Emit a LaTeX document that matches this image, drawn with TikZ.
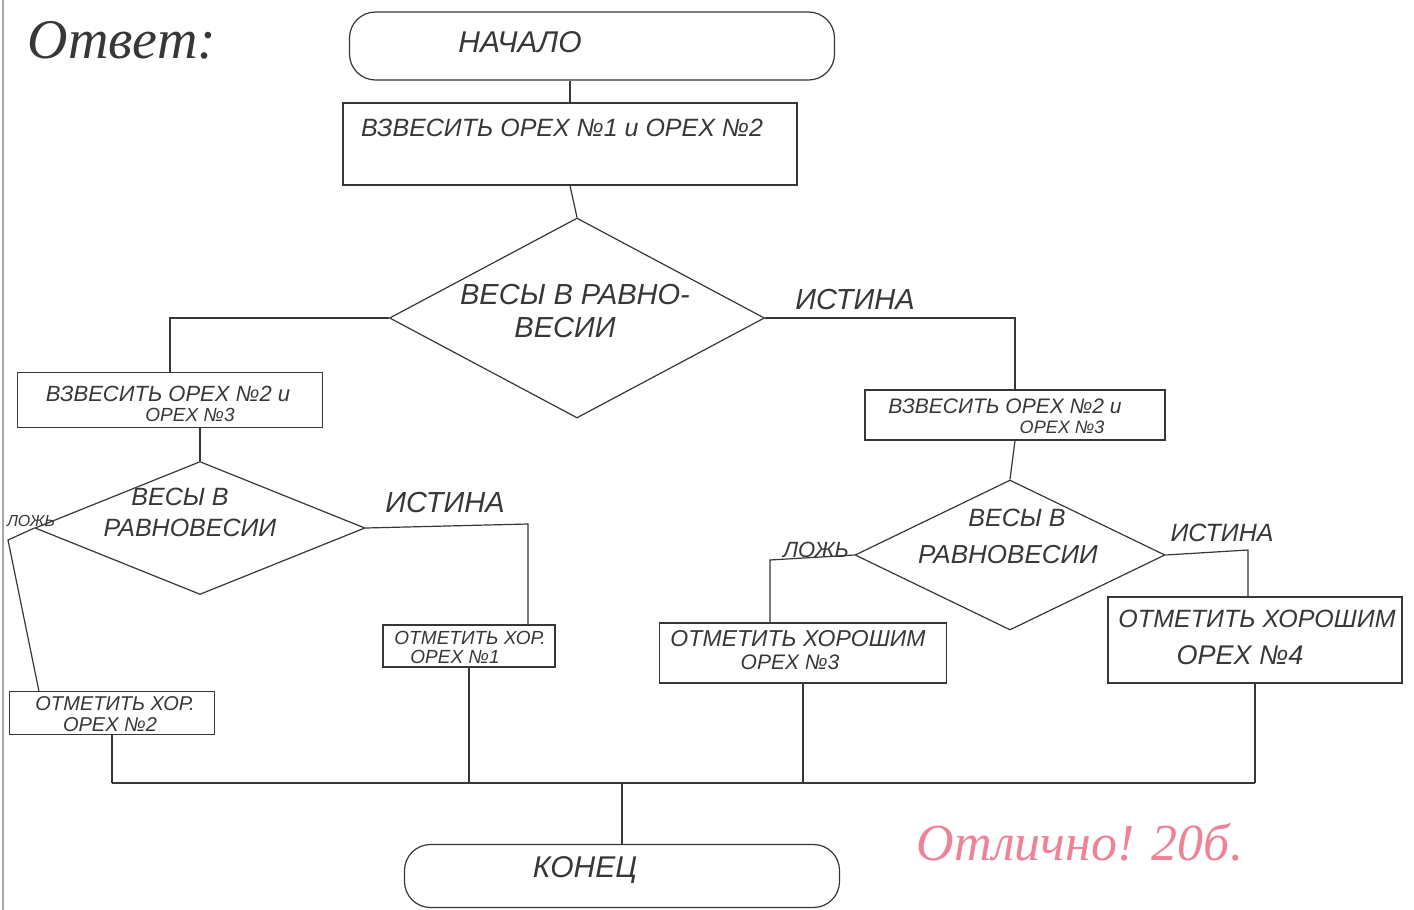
\documentclass[tikz,border=0pt]{standalone}
\usepackage{fontspec}
\setmainfont{Liberation Sans}
\newfontfamily\cursivefont{Liberation Serif}
\usetikzlibrary{shapes.geometric,calc}
\definecolor{ink}{RGB}{55,55,55}
\definecolor{redpen}{RGB}{238,130,150}
\newcommand\hwsize[1]{\fontsize{#1}{#1}\selectfont}
\tikzset{
  ln/.style={draw=ink, line width=0.6pt},
  boxshape/.style={draw=ink, line width=0.6pt, rectangle, inner sep=0pt},
  decshape/.style={draw=ink, line width=0.6pt, diamond, inner sep=0pt},
  termshape/.style={draw=ink, line width=0.6pt, rectangle, rounded corners=13pt, inner sep=0pt},
  hw/.style={font=\itshape, text=ink, inner sep=0pt},
}
\begin{document}
\begin{tikzpicture}[x=0.5pt,y=-0.5pt]
\useasboundingbox (0,0) rectangle (1414,910);
\fill[white] (0,0) rectangle (1414,910);
% scan edge
\draw[gray!70, line width=0.8pt] (3,0) -- (3,910);

% handwritten headings
\node[font=\cursivefont\itshape\hwsize{28}, text=ink, inner sep=0pt] (otvet) at (122,40) {Ответ:};
\node[font=\cursivefont\itshape\hwsize{26}, text=redpen, inner sep=0pt] (mark) at (1080,842) {Отлично! 20б.};

% shapes
\node[termshape, minimum width=242.5pt, minimum height=34pt] (start) at (592,46) {};
\node[boxshape, minimum width=227pt, minimum height=41pt] (b1) at (570,144) {};
\node[decshape, minimum width=187.5pt, minimum height=100pt] (d1) at (577,318) {};
\node[boxshape, minimum width=152.5pt, minimum height=27.5pt] (b2l) at (170,400) {};
\node[boxshape, minimum width=150pt, minimum height=25pt] (b2r) at (1015,415) {};
\node[decshape, minimum width=165pt, minimum height=66.5pt] (d2) at (200,528) {};
\node[decshape, minimum width=155pt, minimum height=75pt] (d3) at (1010,555) {};
\node[boxshape, minimum width=86pt, minimum height=21pt] (g1) at (469,646) {};
\node[boxshape, minimum width=102.5pt, minimum height=21.5pt] (g2) at (112,713) {};
\node[boxshape, minimum width=143.5pt, minimum height=30pt] (g3) at (803,653) {};
\node[boxshape, minimum width=147pt, minimum height=43pt] (g4) at (1255,640) {};
\node[termshape, minimum width=217.5pt, minimum height=31.5pt] (end) at (622,876) {};

% texts
\node[hw, font=\itshape\hwsize{15}] (tstart) at (520,42) {НАЧАЛО};
\node[hw, font=\itshape\hwsize{12.5}] (tb1) at (562,128) {ВЗВЕСИТЬ ОРЕХ №1 и ОРЕХ №2};
\node[hw, font=\itshape\hwsize{14.5}] (td1a) at (575,295) {ВЕСЫ В РАВНО-};
\node[hw, font=\itshape\hwsize{14.5}] (td1b) at (565,328) {ВЕСИИ};
\node[hw, font=\itshape\hwsize{14.5}] (tist1) at (855,300) {ИСТИНА};
\node[hw, font=\itshape\hwsize{11}] (tb2la) at (168,394) {ВЗВЕСИТЬ ОРЕХ №2 и};
\node[hw, font=\itshape\hwsize{9.5}] (tb2lb) at (190,415) {ОРЕХ №3};
\node[hw, font=\itshape\hwsize{10.5}] (tb2ra) at (1005,406) {ВЗВЕСИТЬ ОРЕХ №2 и};
\node[hw, font=\itshape\hwsize{9}] (tb2rb) at (1062,427) {ОРЕХ №3};
\node[hw, font=\itshape\hwsize{12.5}] (td2a) at (180,497) {ВЕСЫ В};
\node[hw, font=\itshape\hwsize{12.5}] (td2b) at (190,528) {РАВНОВЕСИИ};
\node[hw, font=\itshape\hwsize{8}] (tlozh2) at (31,521) {ЛОЖЬ};
\node[hw, font=\itshape\hwsize{14.5}] (tist2) at (445,503) {ИСТИНА};
\node[hw, font=\itshape\hwsize{12.5}] (td3a) at (1017,518) {ВЕСЫ В};
\node[hw, font=\itshape\hwsize{13}] (td3b) at (1008,555) {РАВНОВЕСИИ};
\node[hw, font=\itshape\hwsize{11}] (tlozh3) at (816,550) {ЛОЖЬ};
\node[hw, font=\itshape\hwsize{12.5}] (tist3) at (1222,533) {ИСТИНА};
\node[hw, font=\itshape\hwsize{9.5}] (tg1a) at (470,638) {ОТМЕТИТЬ ХОР.};
\node[hw, font=\itshape\hwsize{9.5}] (tg1b) at (455,657) {ОРЕХ №1};
\node[hw, font=\itshape\hwsize{10}] (tg2a) at (115,704) {ОТМЕТИТЬ ХОР.};
\node[hw, font=\itshape\hwsize{10}] (tg2b) at (110,725) {ОРЕХ №2};
\node[hw, font=\itshape\hwsize{11.5}] (tg3a) at (798,639) {ОТМЕТИТЬ ХОРОШИМ};
\node[hw, font=\itshape\hwsize{10.5}] (tg3b) at (790,662) {ОРЕХ №3};
\node[hw, font=\itshape\hwsize{12.5}] (tg4a) at (1257,619) {ОТМЕТИТЬ ХОРОШИМ};
\node[hw, font=\itshape\hwsize{13.5}] (tg4b) at (1240,655) {ОРЕХ №4};
\node[hw, font=\itshape\hwsize{15}] (tend) at (585,870) {КОНЕЦ};

% helper coordinates
\coordinate (t1) at (528,524);
\coordinate (f1) at (8,540);
\coordinate (f3) at (770,560);
\coordinate (t3) at (1248,550);
\coordinate (bus) at (0,783);

% connectors
\draw[ln] (b1.north |- start.south) -- (b1.north);
\draw[ln] (b1.south) -- (d1.north);
\draw[ln] (d1.west) -| (b2l.north);
\draw[ln] (d1.east) -| (b2r.north);
\draw[ln] (d2.north |- b2l.south) -- (d2.north);
\draw[ln] (b2r.south) -- (d3.north);
\draw[ln] (d2.east) -- (t1) -- (t1 |- g1.north);
\draw[ln] (d2.west) -- (f1) -- ($(g2.north west)+(30,0)$);
\draw[ln] (d3.west) -- (f3) -- (f3 |- g3.north);
\draw[ln] (d3.east) -- (t3) -- (t3 |- g4.north);
\draw[ln] (g2.south) -- (g2.south |- bus);
\draw[ln] (g1.south) -- (g1.south |- bus);
\draw[ln] (g3.south) -- (g3.south |- bus);
\draw[ln] (g4.south) -- (g4.south |- bus);
\draw[ln] (g2.south |- bus) -- (g4.south |- bus);
\draw[ln] (end.north |- bus) -- (end.north);
\end{tikzpicture}
\end{document}
